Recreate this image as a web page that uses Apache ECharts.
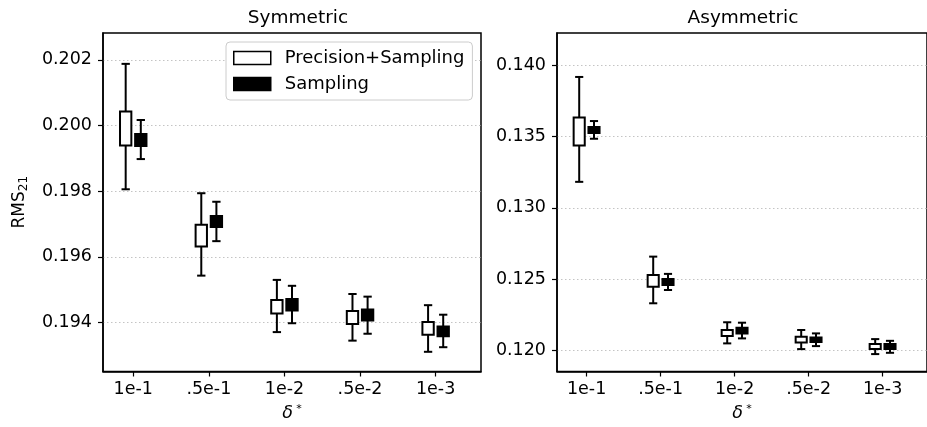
<!DOCTYPE html>
<html>
<head>
<meta charset="utf-8">
<script src="https://cdn.jsdelivr.net/npm/echarts@6/dist/echarts.min.js"></script>
<style>
  html, body { margin: 0; padding: 0; background: #fff; }
  #main { width: 927px; height: 427px; }
</style>
</head>
<body>
<div id="main"></div>
<script>
// categories on the x axis
var deltaLabels = ['1e-1', '.5e-1', '1e-2', '.5e-2', '1e-3'];

// each row: [lower whisker, box bottom, box top, upper whisker]
var symPrecision = [
  [0.19806, 0.19939, 0.20043, 0.20188],
  [0.19543, 0.19632, 0.19698, 0.19794],
  [0.19371, 0.19428, 0.19469, 0.19530],
  [0.19345, 0.19396, 0.19435, 0.19487],
  [0.19311, 0.19363, 0.19402, 0.19453]
];
var symSampling = [
  [0.19898, 0.19938, 0.19974, 0.20017],
  [0.19648, 0.19691, 0.19725, 0.19768],
  [0.19398, 0.19437, 0.19472, 0.19512],
  [0.19366, 0.19406, 0.19440, 0.19479],
  [0.19325, 0.19358, 0.19388, 0.19424]
];
var asymPrecision = [
  [0.13182, 0.13437, 0.13633, 0.13917],
  [0.12331, 0.12447, 0.12529, 0.12658],
  [0.12050, 0.12101, 0.12144, 0.12198],
  [0.12010, 0.12057, 0.12096, 0.12144],
  [0.11975, 0.12010, 0.12045, 0.12080]
];
var asymSampling = [
  [0.13484, 0.13524, 0.13566, 0.13608],
  [0.12424, 0.12459, 0.12501, 0.12537],
  [0.12085, 0.12120, 0.12160, 0.12195],
  [0.12031, 0.12059, 0.12092, 0.12120],
  [0.11984, 0.12010, 0.12045, 0.12068]
];

// tick labels
var symTicks = [0.194, 0.196, 0.198, 0.200, 0.202];
var asymTicks = [0.120, 0.125, 0.130, 0.135, 0.140];
var xTicks = [1, 2, 3, 4, 5];

var FONT = 'DejaVu Sans';
var chart = echarts.init(document.getElementById('main'));

// turn rows into [x, lo, q1, q3, hi], shifted left / right of the tick
function toData(rows, shift) {
  return rows.map(function (r, i) {
    return [i + 1 + shift, r[0], r[1], r[2], r[3]];
  });
}

function makeRender(fill) {
  return function (params, api) {
    var x = api.value(0);
    var lo = api.coord([x, api.value(1)]);
    var q1 = api.coord([x, api.value(2)]);
    var q3 = api.coord([x, api.value(3)]);
    var hi = api.coord([x, api.value(4)]);
    var bw = api.size([0.15, 0])[0];
    var cw = api.size([0.11, 0])[0];
    var st = { stroke: '#000', lineWidth: 2 };
    return {
      type: 'group',
      children: [
        { type: 'line', shape: { x1: lo[0], y1: lo[1], x2: q1[0], y2: q1[1] }, style: st },
        { type: 'line', shape: { x1: q3[0], y1: q3[1], x2: hi[0], y2: hi[1] }, style: st },
        { type: 'line', shape: { x1: lo[0] - cw / 2, y1: lo[1], x2: lo[0] + cw / 2, y2: lo[1] }, style: st },
        { type: 'line', shape: { x1: hi[0] - cw / 2, y1: hi[1], x2: hi[0] + cw / 2, y2: hi[1] }, style: st },
        { type: 'rect', shape: { x: q3[0] - bw / 2, y: q3[1], width: bw, height: q1[1] - q3[1] },
          style: { fill: fill, stroke: '#000', lineWidth: 2 } }
      ]
    };
  };
}

function boxSeries(name, rows, shift, fill, idx) {
  return {
    name: name,
    type: 'custom',
    xAxisIndex: idx,
    yAxisIndex: idx,
    itemStyle: { color: fill, borderColor: '#000' },
    renderItem: makeRender(fill),
    encode: { x: 0, y: [1, 2, 3, 4] },
    data: toData(rows, shift),
    z: 3
  };
}

function xAxis(idx) {
  return {
    type: 'value',
    gridIndex: idx,
    min: 0.6,
    max: 5.6,
    name: '{d|δ} {s|*}',
    nameLocation: 'middle',
    nameGap: 32,
    nameTextStyle: {
      rich: {
        d: { fontFamily: FONT, fontSize: 17.5, fontStyle: 'italic', color: '#000' },
        s: { fontFamily: FONT, fontSize: 11, color: '#000', padding: [0, 0, 8, 0] }
      }
    },
    axisLine: { show: true, onZero: false, lineStyle: { color: '#000', width: 1.5 } },
    axisTick: { show: true, length: 5, customValues: xTicks, lineStyle: { color: '#000', width: 1.2 } },
    axisLabel: {
      customValues: xTicks, margin: 9, color: '#000', fontFamily: FONT, fontSize: 17.5,
      formatter: function (v) { return deltaLabels[Math.round(v) - 1]; }
    },
    splitLine: { show: false }
  };
}

function yAxis(idx, min, max, ticks, digits) {
  return {
    type: 'value',
    gridIndex: idx,
    min: min,
    max: max,
    axisLine: { show: true, lineStyle: { color: '#000', width: 1.5 } },
    axisTick: { show: true, length: 5, customValues: ticks, lineStyle: { color: '#000', width: 1.2 } },
    axisLabel: {
      customValues: ticks, margin: 11, color: '#000', fontFamily: FONT, fontSize: 17.5,
      formatter: function (v) { return v.toFixed(digits); }
    },
    splitLine: { show: true, customValues: ticks, lineStyle: { color: '#c4c4c4', type: [1.5, 2.5], width: 1 } }
  };
}

var yLeft = yAxis(0, 0.19251, 0.20282, symTicks, 3);
yLeft.name = '{a|RMS}{b|21}';
yLeft.nameLocation = 'middle';
yLeft.nameGap = 73;
yLeft.nameTextStyle = {
  rich: {
    a: { fontFamily: FONT, fontSize: 17, color: '#000' },
    b: { fontFamily: FONT, fontSize: 12, color: '#000', padding: [8, 0, 0, 0] }
  }
};

var option = {
  backgroundColor: '#fff',
  animation: false,
  title: [
    { text: 'Symmetric', left: 293, textAlign: 'center', top: 4,
      textStyle: { fontFamily: FONT, fontSize: 18.5, fontWeight: 'normal', color: '#000' } },
    { text: 'Asymmetric', left: 738, textAlign: 'center', top: 4,
      textStyle: { fontFamily: FONT, fontSize: 18.5, fontWeight: 'normal', color: '#000' } }
  ],
  legend: {
    orient: 'vertical',
    left: 226,
    top: 42,
    padding: [7, 8, 7, 7],
    itemWidth: 37,
    itemHeight: 13,
    itemGap: 8,
    borderColor: '#ccc',
    borderWidth: 1,
    borderRadius: 4,
    backgroundColor: '#fff',
    textStyle: { fontFamily: FONT, fontSize: 18, color: '#000', padding: [0, 0, 0, 9] },
    data: [
      { name: 'Precision+Sampling', icon: 'rect', itemStyle: { color: '#fff', borderColor: '#000', borderWidth: 1.5 } },
      { name: 'Sampling', icon: 'rect', itemStyle: { color: '#000', borderColor: '#000', borderWidth: 1.5 } }
    ]
  },
  grid: [
    { left: 103, top: 33, width: 378, height: 339, show: true, borderColor: '#000', borderWidth: 1.5 },
    { left: 557, top: 33, width: 378, height: 339, show: true, borderColor: '#000', borderWidth: 1.5 }
  ],
  xAxis: [xAxis(0), xAxis(1)],
  yAxis: [yLeft, yAxis(1, 0.11853, 0.14225, asymTicks, 3)],
  series: [
    boxSeries('Precision+Sampling', symPrecision, -0.1, '#fff', 0),
    boxSeries('Sampling', symSampling, 0.1, '#000', 0),
    boxSeries('Precision+Sampling', asymPrecision, -0.1, '#fff', 1),
    boxSeries('Sampling', asymSampling, 0.1, '#000', 1)
  ]
};

chart.setOption(option);
</script>
</body>
</html>
